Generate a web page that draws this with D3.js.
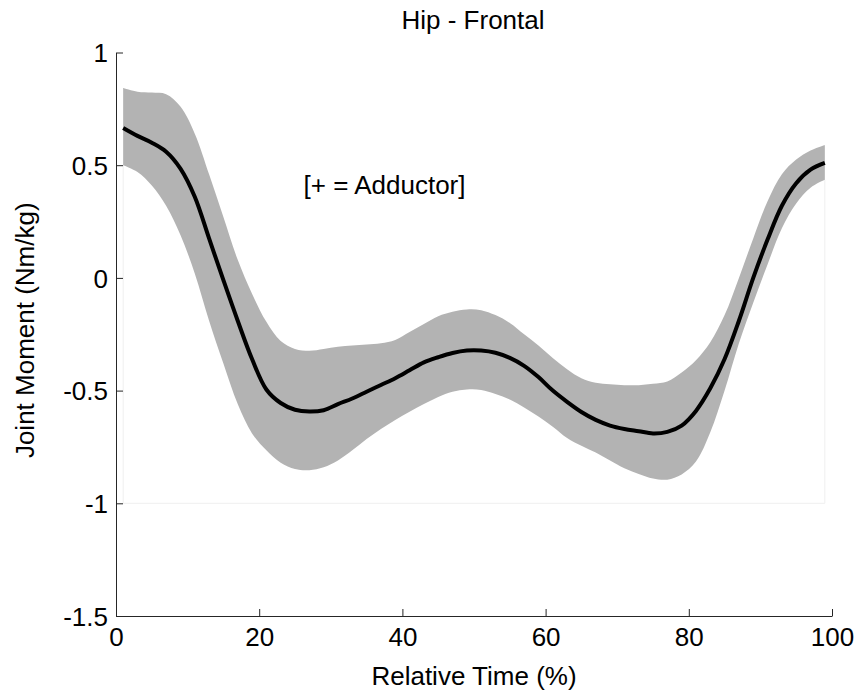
<!DOCTYPE html>
<html>
<head>
<meta charset="utf-8">
<script src="https://cdn.jsdelivr.net/npm/d3@7"></script>
<style>
    body { margin: 0; background: #fff; }
    text { font-family: "Liberation Sans", Arial, sans-serif; fill: #000; }
</style>
</head>
<body>
<div id="chart"></div>
<script>
// relative time (%) samples
const time = [1, 3, 5, 7, 9, 11, 13, 15, 17, 19, 21, 23, 25, 27, 29, 31, 33, 35, 37, 39,
    41, 43, 45, 47, 49, 51, 53, 55, 57, 59, 61, 63, 65, 67, 69, 71, 73, 75, 77, 79,
    81, 83, 85, 87, 89, 91, 93, 95, 97, 99]

// mean joint moment (Nm/kg)
const meanMoment = [0.665, 0.63, 0.60, 0.56, 0.485, 0.36, 0.175, -0.01, -0.19, -0.36,
    -0.495, -0.555, -0.585, -0.593, -0.587, -0.56, -0.535, -0.505, -0.475, -0.445,
    -0.41, -0.375, -0.352, -0.333, -0.322, -0.322, -0.332, -0.355, -0.39, -0.44,
    -0.50, -0.55, -0.595, -0.63, -0.655, -0.67, -0.68, -0.69, -0.683, -0.655,
    -0.59, -0.49, -0.36, -0.19, 0.0, 0.17, 0.32, 0.42, 0.48, 0.51]

// upper / lower edge of the shaded band
const upperBand = [0.842, 0.826, 0.822, 0.815, 0.76, 0.64, 0.46, 0.27, 0.08, -0.07,
    -0.195, -0.28, -0.315, -0.323, -0.315, -0.305, -0.30, -0.295, -0.29, -0.275,
    -0.24, -0.205, -0.17, -0.15, -0.14, -0.143, -0.165, -0.2, -0.25, -0.30,
    -0.355, -0.405, -0.445, -0.465, -0.472, -0.476, -0.476, -0.47, -0.46, -0.42,
    -0.365, -0.285, -0.165, 0.0, 0.175, 0.34, 0.46, 0.525, 0.565, 0.59]

const lowerBand = [0.50, 0.47, 0.41, 0.32, 0.19, 0.02, -0.19, -0.38, -0.56, -0.69,
    -0.765, -0.82, -0.848, -0.853, -0.84, -0.81, -0.765, -0.715, -0.67, -0.63,
    -0.594, -0.56, -0.528, -0.505, -0.495, -0.497, -0.515, -0.54, -0.575, -0.615,
    -0.66, -0.71, -0.745, -0.775, -0.81, -0.845, -0.87, -0.89, -0.895, -0.872,
    -0.815, -0.685, -0.50, -0.29, -0.11, 0.06, 0.22, 0.33, 0.40, 0.435]

const xTicks = [0, 20, 40, 60, 80, 100]
const yTicks = [1, 0.5, 0, -0.5, -1, -1.5]

const width = 858, height = 697
const margin = ({ top: 52.5, right: 26, bottom: 81, left: 116 })
const fontSize = "26px"

const svg = d3.select("#chart").append("svg")
    .attr("width", width)
    .attr("height", height)

const x = d3.scaleLinear().domain([0, 100]).range([margin.left, width - margin.right])
const y = d3.scaleLinear().domain([-1.5, 1]).range([height - margin.bottom, margin.top])

const rows = time.map((t, i) => ({ t: t, m: meanMoment[i], hi: upperBand[i], lo: lowerBand[i] }))

// faint patch outline (left, bottom, right edges)
svg.append("path")
    .attr("d", `M${x(time[0])},${y(lowerBand[0])}L${x(time[0])},${y(-1)}L${x(time[time.length - 1])},${y(-1)}L${x(time[time.length - 1])},${y(lowerBand[lowerBand.length - 1])}`)
    .attr("fill", "none")
    .attr("stroke", "#efefef")
    .attr("stroke-width", 1)

// shaded band
svg.append("path")
    .datum(rows)
    .attr("fill", "#b3b3b3")
    .attr("d", d3.area()
        .x(d => x(d.t))
        .y0(d => y(d.lo))
        .y1(d => y(d.hi))
        .curve(d3.curveCatmullRom.alpha(0.5)))

// mean curve
svg.append("path")
    .datum(rows)
    .attr("fill", "none")
    .attr("stroke", "#000")
    .attr("stroke-width", 4)
    .attr("stroke-linejoin", "round")
    .attr("d", d3.line()
        .x(d => x(d.t))
        .y(d => y(d.m))
        .curve(d3.curveCatmullRom.alpha(0.5)))

// axes, ticks pointing inward
const xAxis = svg.append("g")
    .attr("transform", `translate(0,${y(-1.5)})`)
    .call(d3.axisBottom(x).tickValues(xTicks).tickSizeInner(-7).tickSizeOuter(0).tickPadding(8))
const yAxis = svg.append("g")
    .attr("transform", `translate(${x(0)},0)`)
    .call(d3.axisLeft(y).tickValues(yTicks).tickSizeInner(-7).tickSizeOuter(0).tickPadding(8)
        .tickFormat(d => String(d)))

for (let ax of [xAxis, yAxis]) {
    ax.select(".domain").attr("stroke", "#262626").attr("stroke-width", 1)
    ax.selectAll(".tick line").attr("stroke", "#262626")
    ax.selectAll(".tick text")
        .style("font-family", "'Liberation Sans', Arial, sans-serif")
        .style("font-size", fontSize)
        .attr("fill", "#000")
}
xAxis.selectAll(".tick text").attr("dy", "0.85em")
yAxis.selectAll(".tick text").attr("dy", "0.36em")

// titles
svg.append("text")
    .attr("x", 473)
    .attr("y", 29)
    .attr("text-anchor", "middle")
    .style("font-size", fontSize)
    .text("Hip - Frontal")

svg.append("text")
    .attr("x", 474)
    .attr("y", 685)
    .attr("text-anchor", "middle")
    .style("font-size", fontSize)
    .text("Relative Time (%)")

svg.append("text")
    .attr("transform", `translate(34,${(y(1) + y(-1.5)) / 2 - 4}) rotate(-90)`)
    .attr("text-anchor", "middle")
    .style("font-size", fontSize)
    .text("Joint Moment (Nm/kg)")

svg.append("text")
    .attr("x", x(26.2))
    .attr("y", y(0.372))
    .style("font-size", fontSize)
    .text("[+ = Adductor]")
</script>
</body>
</html>
